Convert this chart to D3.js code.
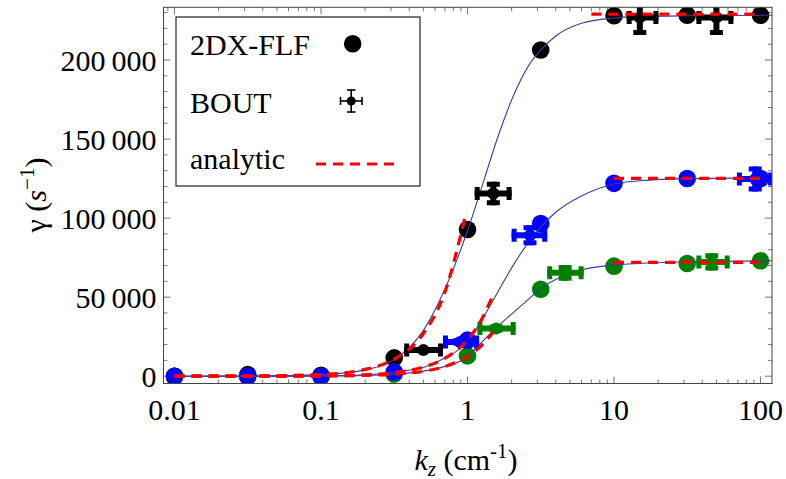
<!DOCTYPE html>
<meta charset="utf-8">
<title>Growth rate vs kz</title>
<style>

body {
  margin: 0;
  background: #fff;
}

text {
  font-family: "Liberation Serif", "Times New Roman", serif;
  fill: #000;
}

</style>
<body>
<script src="https://cdn.jsdelivr.net/npm/d3@7"></script>
<script>
var w = 786,
    h = 479;

// 2DX-FLF points
var kGrid = [0.01, 0.0316, 0.1, 0.316, 1, 3.16, 10, 31.6, 100];
var flfBlack = [0, 1000, 600, 11600, 92800, 206300, 228000, 228300, 228300];
var flfGreen = [0, 0, 0, 1300, 12850, 55000, 69600, 71300, 73000];
var flfBlue = [0, 0, 0, 2700, 22800, 96600, 122000, 125100, 125000];

// BOUT points with error bars
var boutBlackK = [0.5, 1.5, 15, 50];
var boutBlackKLo = [0.37, 1.12, 12.2, 36.5];
var boutBlackKHi = [0.68, 2.0, 20.1, 65.3];
var boutBlack = [16500, 115600, 226900, 226900];
var boutBlackErr = [2000, 7400, 11000, 11000];

var boutBlueK = [0.89, 2.67, 92];
var boutBlueKLo = [0.68, 2.0, 69];
var boutBlueKHi = [1.2, 3.5, 122];
var boutBlue = [21700, 89200, 124700];
var boutBlueErr = [2500, 6300, 7900];

var boutGreenK = [1.57, 4.64, 46.5];
var boutGreenKLo = [1.17, 3.5, 36.5];
var boutGreenKHi = [2.13, 6.2, 61.6];
var boutGreen = [30200, 65400, 72300];
var boutGreenErr = [2500, 5000, 5400];

// fitted curves
var fitK = [0.01, 0.0316, 0.1, 0.2, 0.316, 0.5, 0.7, 1, 1.3, 1.6, 2, 2.7, 3.16, 4, 6, 10, 15, 31.6, 120];
var fitBlack = [10, 100, 1000, 4000, 10500, 29000, 55000, 92000, 124500, 150500, 174700, 198500, 206300, 215200, 223200, 226600, 227500, 228000, 228300];
var fitBlue = [2, 20, 220, 900, 2700, 5500, 11500, 21800, 38200, 52800, 68500, 86600, 94300, 103700, 114000, 121600, 123600, 125000, 125500];
var fitGreen = [1, 12, 125, 500, 1300, 3200, 6200, 12300, 23200, 31400, 39300, 49900, 55500, 61200, 67200, 70300, 71300, 72300, 73000];

// analytic limits
var anaBlackK = [0.01, 0.0316, 0.1, 0.2, 0.316, 0.5, 0.7, 0.98];
var anaBlack = [11, 108, 1080, 4300, 10800, 27000, 53000, 104000];
var anaBlueK = [0.01, 0.0316, 0.1, 0.2, 0.316, 0.5, 0.7, 1, 1.25, 1.48];
var anaBlue = [2, 23, 230, 920, 2300, 5800, 11300, 23000, 36000, 50500];
var anaGreenK = [0.01, 0.0316, 0.1, 0.2, 0.316, 0.5, 0.7, 1, 1.25, 1.5];
var anaGreen = [1, 12, 125, 500, 1250, 3100, 6100, 12500, 19500, 28000];
var anaHighK = [[7, 100], [10, 100], [10, 100]];
var anaHigh = [229000, 125100, 72000];

var xTicks = [0.01, 0.1, 1, 10, 100],
    xTickLabels = ["0.01", "0.1", "1", "10", "100"],
    yTicks = [0, 50000, 100000, 150000, 200000],
    yTickLabels = ["0", "50\u2009000", "100\u2009000", "150\u2009000", "200\u2009000"];

var pl = 163.5, pr = 772, pt = 7.3, pb = 383.5;

var x = d3.scaleLog().domain([0.00841, 119.8]).range([pl, pr]);
var y = d3.scaleLinear().domain([-4620, 233350]).range([pb, pt]);

var svg = d3.select("body").append("svg")
    .attr("width", w)
    .attr("height", h);

svg.append("defs").append("clipPath")
    .attr("id", "plotclip")
  .append("rect")
    .attr("x", pl)
    .attr("y", pt)
    .attr("width", pr - pl)
    .attr("height", pb - pt);

// ticks
var minorX = [];
[0.001, 0.01, 0.1, 1, 10, 100].forEach(function(d) {
  for (var i = 2; i < 10; i++) {
    var v = d * i;
    if (v > x.domain()[0] && v < x.domain()[1]) minorX.push(v);
  }
});
var minorY = d3.range(10000, 240000, 10000).filter(function(d) { return d % 50000 != 0 && d < y.domain()[1]; });

var ticks = svg.append("g").attr("stroke", "#555").attr("stroke-width", 0.8);

function tickLines(vals, len, axis) {
  vals.forEach(function(v) {
    if (axis == "x") {
      ticks.append("line").attr("x1", x(v)).attr("x2", x(v)).attr("y1", pb).attr("y2", pb - len);
      ticks.append("line").attr("x1", x(v)).attr("x2", x(v)).attr("y1", pt).attr("y2", pt + len);
    } else {
      ticks.append("line").attr("y1", y(v)).attr("y2", y(v)).attr("x1", pl).attr("x2", pl + len);
      ticks.append("line").attr("y1", y(v)).attr("y2", y(v)).attr("x1", pr).attr("x2", pr - len);
    }
  });
}
tickLines(xTicks, 7, "x");
tickLines(minorX, 4, "x");
tickLines(yTicks, 7, "y");
tickLines(minorY, 4, "y");

svg.selectAll(".xlab")
    .data(xTicks)
  .enter().append("text")
    .attr("class", "xlab")
    .attr("x", function(d) { return x(d); })
    .attr("y", 419.5)
    .attr("text-anchor", "middle")
    .style("font-size", "30px")
    .text(function(d, i) { return xTickLabels[i]; });

svg.selectAll(".ylab")
    .data(yTicks)
  .enter().append("text")
    .attr("class", "ylab")
    .attr("x", 156.5)
    .attr("y", function(d) { return y(d) + 10.5; })
    .attr("text-anchor", "end")
    .style("font-size", "30px")
    .text(function(d, i) { return yTickLabels[i]; });

// plot area
var plot = svg.append("g").attr("clip-path", "url(#plotclip)");

var r = 8.8;
function circles(vals, color) {
  plot.append("g").selectAll("circle")
      .data(kGrid)
    .enter().append("circle")
      .attr("cx", function(d) { return x(d); })
      .attr("cy", function(d, i) { return y(vals[i]); })
      .attr("r", r)
      .attr("fill", color);
}
circles(flfBlack, "#000");
circles(flfGreen, "#008000");
circles(flfBlue, "#0000ff");

var line = d3.line()
    .x(function(d) { return x(d[0]); })
    .y(function(d) { return y(d[1]); })
    .curve(d3.curveMonotoneX);

[fitBlack, fitBlue, fitGreen].forEach(function(vals) {
  plot.append("path")
      .attr("d", line(d3.zip(fitK, vals)))
      .attr("fill", "none")
      .attr("stroke", "#3c3ca6")
      .attr("stroke-width", 1.1);
});

function bout(ks, lo, hi, vals, err, color) {
  var g = plot.append("g").attr("fill", color).attr("stroke", color);
  ks.forEach(function(k, i) {
    var cx = x(k), cy = y(vals[i]),
        x0 = x(lo[i]), x1 = x(hi[i]),
        y0 = y(vals[i] - err[i]), y1 = y(vals[i] + err[i]);
    g.append("line").attr("x1", x0).attr("x2", x1).attr("y1", cy).attr("y2", cy).attr("stroke-width", 6);
    g.append("line").attr("x1", cx).attr("x2", cx).attr("y1", y0).attr("y2", y1).attr("stroke-width", 6);
    g.append("line").attr("x1", x0 + 2.5).attr("x2", x0 + 2.5).attr("y1", cy - 6.5).attr("y2", cy + 6.5).attr("stroke-width", 5);
    g.append("line").attr("x1", x1 - 2.5).attr("x2", x1 - 2.5).attr("y1", cy - 6.5).attr("y2", cy + 6.5).attr("stroke-width", 5);
    g.append("line").attr("x1", cx - 6.5).attr("x2", cx + 6.5).attr("y1", y0 - 2.5).attr("y2", y0 - 2.5).attr("stroke-width", 5);
    g.append("line").attr("x1", cx - 6.5).attr("x2", cx + 6.5).attr("y1", y1 + 2.5).attr("y2", y1 + 2.5).attr("stroke-width", 5);
    g.append("circle").attr("cx", cx).attr("cy", cy).attr("r", 6).attr("stroke", "none");
  });
}
bout(boutBlackK, boutBlackKLo, boutBlackKHi, boutBlack, boutBlackErr, "#000");
bout(boutBlueK, boutBlueKLo, boutBlueKHi, boutBlue, boutBlueErr, "#0000ff");
bout(boutGreenK, boutGreenKLo, boutGreenKHi, boutGreen, boutGreenErr, "#008000");

var dash = function(path) {
  path.attr("fill", "none")
      .attr("stroke", "#ff0000")
      .attr("stroke-width", 3.2)
      .attr("stroke-dasharray", "10,7");
};
[[anaBlackK, anaBlack], [anaBlueK, anaBlue], [anaGreenK, anaGreen]].forEach(function(s) {
  plot.append("path").attr("d", line(d3.zip(s[0], s[1]))).call(dash);
});
anaHighK.forEach(function(ks, i) {
  plot.append("path").attr("d", line(ks.map(function(k) { return [k, anaHigh[i]]; }))).call(dash);
});

// frame
svg.append("rect")
    .attr("x", pl)
    .attr("y", pt)
    .attr("width", pr - pl)
    .attr("height", pb - pt)
    .attr("fill", "none")
    .attr("stroke", "#444")
    .attr("stroke-width", 1);

// legend
var lg = svg.append("g");
lg.append("rect")
    .attr("x", 176)
    .attr("y", 17)
    .attr("width", 244)
    .attr("height", 169)
    .attr("fill", "#fff")
    .attr("stroke", "#222")
    .attr("stroke-width", 1.2);
lg.append("text").attr("x", 190).attr("y", 55).style("font-size", "30px").text("2DX-FLF");
lg.append("text").attr("x", 190).attr("y", 113).style("font-size", "30px").text("BOUT");
lg.append("text").attr("x", 190).attr("y", 169).style("font-size", "30px").text("analytic");
lg.append("circle").attr("cx", 352.7).attr("cy", 43.7).attr("r", r).attr("fill", "#000");

var li = lg.append("g").attr("stroke", "#000").attr("stroke-width", 1.6);
li.append("line").attr("x1", 340).attr("x2", 362.5).attr("y1", 101).attr("y2", 101);
li.append("line").attr("x1", 351.2).attr("x2", 351.2).attr("y1", 89.5).attr("y2", 112.5);
li.append("line").attr("x1", 340.5).attr("x2", 340.5).attr("y1", 97).attr("y2", 105);
li.append("line").attr("x1", 362).attr("x2", 362).attr("y1", 97).attr("y2", 105);
li.append("line").attr("x1", 347).attr("x2", 355.5).attr("y1", 90).attr("y2", 90);
li.append("line").attr("x1", 347).attr("x2", 355.5).attr("y1", 112).attr("y2", 112);
lg.append("circle").attr("cx", 351.2).attr("cy", 101).attr("r", 4.5).attr("fill", "#000");
lg.append("line")
    .attr("x1", 316).attr("x2", 397)
    .attr("y1", 164).attr("y2", 164)
    .call(dash);

// axis titles
var xt = svg.append("text")
    .attr("x", 466)
    .attr("y", 470)
    .attr("text-anchor", "middle")
    .style("font-size", "30px");
xt.append("tspan").style("font-style", "italic").text("k");
xt.append("tspan").style("font-style", "italic").style("font-size", "21px").attr("dy", 6).text("z");
xt.append("tspan").attr("dy", -6).text(" (cm");
xt.append("tspan").style("font-size", "21px").attr("dy", -12).text("-1");
xt.append("tspan").attr("dy", 12).text(")");

var yt = svg.append("text")
    .attr("transform", "translate(46,195)rotate(-90)")
    .attr("text-anchor", "middle")
    .style("font-size", "30px");
yt.append("tspan").text("\u03b3 (");
yt.append("tspan").style("font-style", "italic").text("s");
yt.append("tspan").style("font-size", "21px").attr("dy", -12).text("\u22121");
yt.append("tspan").attr("dy", 12).text(")");
</script>
